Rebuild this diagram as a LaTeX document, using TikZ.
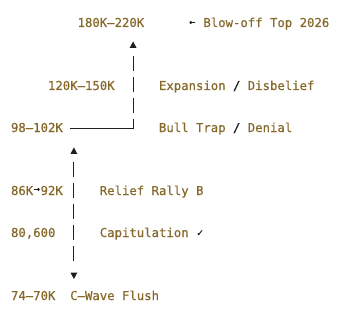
\documentclass[tikz,border=0pt]{standalone}
\usepackage{fontspec}
\newfontfamily\mono[FakeBold=0.5]{DejaVu Sans Mono}
\definecolor{gold}{HTML}{86692A}
\definecolor{ink}{HTML}{1E1E1E}
\begin{document}
\begin{tikzpicture}[x=1pt,y=1pt,
  lbl/.style={anchor=base west, inner sep=0pt, outer sep=0pt, text=gold, font=\mono\fontsize{12.3}{14}\selectfont},
  sepmark/.style={lbl, text=ink},
  smallarrow/.style={anchor=center, inner sep=0pt, outer sep=0pt, text=ink, font=\mono\fontsize{10}{11}\selectfont},
  pipeline/.style={draw=ink, line width=1.1pt},
  tipfill/.style={fill=ink}]
\useasboundingbox (0,0) rectangle (356,-318);
\fill[white] (0,0) rectangle (356,-318);

% line 0
\node[lbl] (top) at (77.6,-27) {180K–220K};
\node[smallarrow] (larr) at (192.3,-23) {←};
\node[lbl] (blow) at (203.4,-27) {Blow-off Top 2026};
% line 3
\node[lbl] (exp) at (48,-90) {120K–150K};
\node[lbl] (expl) at (159,-90) {Expansion};
\node[sepmark] (exps) at (233,-90) {/};
\node[lbl] (expr) at (247.8,-90) {Disbelief};
% line 5
\node[lbl] (trap) at (11,-132) {98–102K};
\node[lbl] (trapl) at (159,-132) {Bull Trap};
\node[sepmark] (traps) at (233,-132) {/};
\node[lbl] (trapr) at (247.8,-132) {Denial};
% line 8
\node[lbl] (rel1) at (11,-195) {86K};
\node[smallarrow] (rarr) at (36.9,-190) {→};
\node[lbl] (rel2) at (40.6,-195) {92K};
\node[lbl] (rell) at (99.8,-195) {Relief Rally B};
% line 10
\node[lbl] (cap) at (11,-237) {80,600};
\node[lbl] (capl) at (99.8,-237) {Capitulation};
\node[sepmark, font=\mono\fontsize{10}{11}\selectfont] (capc) at (197,-236) {✓};
% line 13
\node[lbl] (flush) at (11,-300) {74–70K};
\node[lbl] (flushl) at (70.2,-300) {C–Wave Flush};

% upper connector
\coordinate (h0) at (70.2,-128.3);
\coordinate (corner) at (133.1,-128.3);
\coordinate (uend) at (133.1,-56.5);
\coordinate (utip) at (133.1,-41.5);
\draw[pipeline, dash pattern=on 71.7pt off 6pt on 15pt off 6pt on 15pt off 6pt on 15pt off 40pt]
  (h0) -- (corner) -- (uend);
\fill[tipfill] (utip) -- ++(-3.4,-6.3) -- ++(6.8,0) -- cycle;

% lower connector
\coordinate (lstart) at (73.9,-161.5);
\coordinate (lend) at (73.9,-260.5);
\coordinate (ltip) at (73.9,-147.5);
\coordinate (dtip) at (73.9,-279);
\draw[pipeline, dash pattern=on 15pt off 6pt] (lstart) -- (lend);
\fill[tipfill] (ltip) -- ++(-3.4,-6.3) -- ++(6.8,0) -- cycle;
\fill[tipfill] (dtip) -- ++(-3.4,6.3) -- ++(6.8,0) -- cycle;
\end{tikzpicture}
\end{document}
